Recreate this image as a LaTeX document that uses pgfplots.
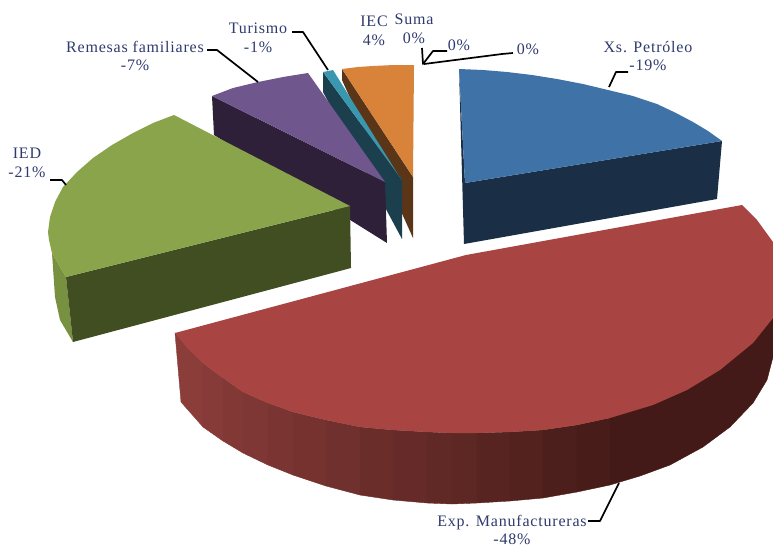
\documentclass[border=0pt]{standalone}
\usepackage{pgfplots}
\usepackage{fontspec}
\setmainfont{Liberation Serif}[LetterSpace=5]
\pgfplotsset{compat=1.18}
\definecolor{txt}{HTML}{2F3A6E}
\definecolor{blueT}{HTML}{3F72A6}
\definecolor{blueD}{HTML}{1A2E45}
\definecolor{redT}{HTML}{A84543}
\definecolor{redA}{HTML}{8B3D3A}
\definecolor{redB}{HTML}{431A17}
\definecolor{greenT}{HTML}{89A44B}
\definecolor{greenD}{HTML}{404E21}
\definecolor{greenS}{HTML}{779140}
\definecolor{purT}{HTML}{6F568C}
\definecolor{purD}{HTML}{2E2039}
\definecolor{tealT}{HTML}{3A97B0}
\definecolor{tealD}{HTML}{1B3F4D}
\definecolor{oraT}{HTML}{D98239}
\definecolor{oraD}{HTML}{5A3518}
\tikzset{lab/.style={text=txt,font=\fontsize{16}{18.5}\selectfont,align=center,inner sep=0pt}}
\pgfplotsset{leader/.style={black,line width=1.7pt,line join=round},
  band/.style={fill=redB!#1!redA,draw=redB!#1!redA,line width=0.4pt}}
\begin{document}
\begin{tikzpicture}
\path[use as bounding box] (0,0) rectangle (773pt,547pt);
\begin{axis}[hide axis,scale only axis,width=773pt,height=547pt,
  xmin=0,xmax=773,ymin=0,ymax=547,y dir=reverse,clip=true,at={(0,0)},anchor=south west]
% orange
\addplot[fill=oraD,draw=none] coordinates {(342,69)(342,80)(413,238)(413,177)} --cycle;
\addplot[fill=oraT,draw=none] coordinates {(342,69)(358,67)(373,66)(394,65)(414,65)(413,177)} --cycle;
% teal
\addplot[fill=tealD,draw=none] coordinates {(323,72)(323,92)(402,239)(402,180)} --cycle;
\addplot[fill=tealT,draw=none] coordinates {(323,72)(333,70)(399,176)(402,180)} --cycle;
% purple
\addplot[fill=purD,draw=none] coordinates {(212,96)(214,135)(387,243)(385,182)} --cycle;
\addplot[fill=purT,draw=none] coordinates {(212,96)(233,88)(258,82)(283,77)(308,73)(385,182)} --cycle;
% blue
\addplot[fill=blueD,draw=none] coordinates {(459,69)(464,244)(717,199)(722,141)(465,183)} --cycle;
\addplot[fill=blueT,draw=none] coordinates {(459,69)(483,70)(507,72)(532,75)(557,79)(583,84)(608,90)(633,96)(657,104)(676,113)(693,122)(708,131)(722,141)(465,183)} --cycle;
% green
\addplot[fill=greenS,draw=none] coordinates {(52,253)(55,297)(60,320)(73,342)(66,277)} --cycle;
\addplot[fill=greenD,draw=none] coordinates {(66,277)(73,342)(351,268)(350,206)} --cycle;
\addplot[fill=greenT,draw=none] coordinates {(174,115)(153,123)(133,133)(112,145)(93,158)(77,172)(63,187)(55,202)(50,217)(48,232)(49,240)(52,253)(66,277)(350,206)} --cycle;
% red side bands
\addplot[band=0]   coordinates {(175,333)(181,402)(203,427)(203,363)} --cycle;
\addplot[band=6]   coordinates {(203,363)(203,427)(223,441)(223,378)} --cycle;
\addplot[band=12]  coordinates {(223,378)(223,441)(243,453)(243,392)} --cycle;
\addplot[band=18]  coordinates {(243,392)(243,453)(268,465)(268,403)} --cycle;
\addplot[band=24]  coordinates {(268,403)(268,465)(293,475)(293,412)} --cycle;
\addplot[band=31]  coordinates {(293,412)(293,475)(326,486)(326,420)} --cycle;
\addplot[band=38]  coordinates {(326,420)(326,486)(360,495)(360,427)} --cycle;
\addplot[band=45]  coordinates {(360,427)(360,495)(393,500)(393,430)} --cycle;
\addplot[band=52]  coordinates {(393,430)(393,500)(427,503)(427,432)} --cycle;
\addplot[band=58]  coordinates {(427,432)(427,503)(452,504)(452,433)} --cycle;
\addplot[band=64]  coordinates {(452,433)(452,504)(477,503)(477,433)} --cycle;
\addplot[band=71]  coordinates {(477,433)(477,503)(510,501)(510,432)} --cycle;
\addplot[band=78]  coordinates {(510,432)(510,501)(543,498)(543,430)} --cycle;
\addplot[band=86]  coordinates {(543,430)(543,498)(577,492)(577,425)} --cycle;
\addplot[band=94]  coordinates {(577,425)(577,492)(610,485)(610,418)} --cycle;
\addplot[band=100] coordinates {(610,418)(610,485)(640,476)(670,465)(703,447)(730,427)(753,403)(767,380)(773,357)(773,318)(700,360)} --cycle;
% red top
\addplot[fill=redT,draw=none] coordinates {(175,333)(466,255)(742,205)(757,220)(773,242)(773,318)(753,343)(720,370)(687,390)(653,405)(610,418)(577,425)(543,430)(510,432)(477,433)(452,433)(427,432)(393,430)(360,427)(326,420)(293,412)(268,403)(243,392)(223,378)(203,363)(188,349)} --cycle;
% leaders
\addplot[leader] coordinates {(207,50)(217,50)(258,82)};
\addplot[leader] coordinates {(292,32)(303,32)(328,70)};
\addplot[leader] coordinates {(422,48)(423,64)(433,51)(447,51)};
\addplot[leader] coordinates {(424,64)(502,54)(513,53)};
\addplot[leader] coordinates {(628,72)(616,72)(609,87)};
\addplot[leader] coordinates {(50,180)(62,180)(66,185)};
\addplot[leader] coordinates {(588,521)(600,521)(619,483)};
% labels
\node[lab] at (axis cs:135,56) {Remesas familiares\\-7\%};
\node[lab] at (axis cs:258,38) {Turismo\\-1\%};
\node[lab] at (axis cs:374,31) {IEC\\4\%};
\node[lab] at (axis cs:414,29) {Suma\\0\%};
\node[lab] at (axis cs:459,45) {0\%};
\node[lab] at (axis cs:528,49) {0\%};
\node[lab] at (axis cs:648,56) {Xs. Petróleo\\-19\%};
\node[lab] at (axis cs:27,163) {IED\\-21\%};
\node[lab] at (axis cs:512,530) {Exp. Manufactureras\\-48\%};
\end{axis}
\end{tikzpicture}
\end{document}
